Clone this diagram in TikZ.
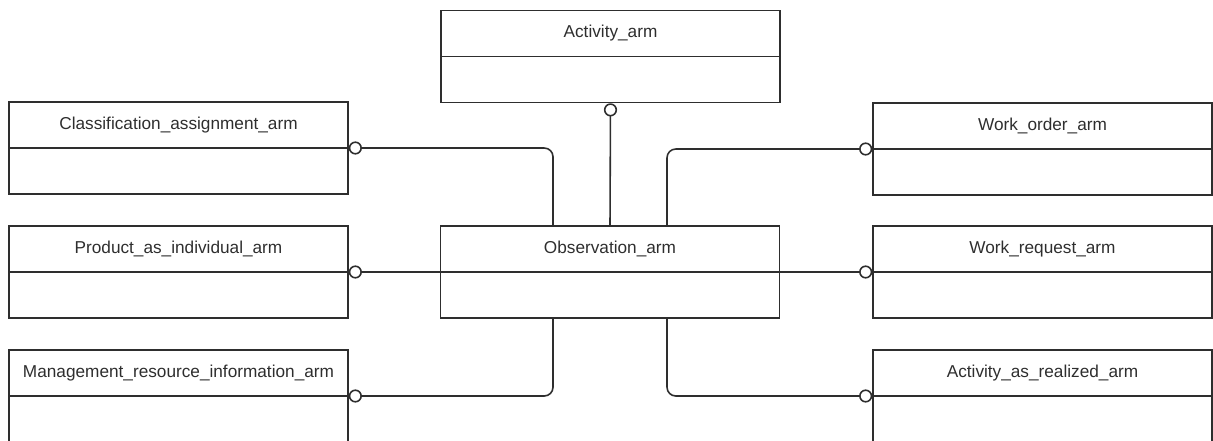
\documentclass[tikz,border=0pt]{standalone}
\usepackage{fontspec}
\setmainfont{Liberation Sans}
\usepackage{xcolor}
\usepackage{tikz}
\usetikzlibrary{arrows.meta,calc}
\definecolor{armgray}{HTML}{2E2E2E}
\newcommand{\armbox}[3]
{
\node[armrect] (#1) at #2 {};
\draw[armline] (#1.west) -- (#1.east);
\path (#1.north) -- (#1.center) node[midway,armtitle]{#3};
}
\tikzstyle{armline}=[draw=armgray,line width=0.9pt]
\tikzstyle{armrect}=[rectangle,draw=armgray,line width=0.9pt,inner sep=0pt,
minimum width=6.78cm,minimum height=1.84cm]
\tikzstyle{armtitle}=[text=armgray,font=\fontsize{9.8}{11}\selectfont]
\tikzstyle{armlink}=[-{Circle[open,length=7.5pt,width=7.5pt]},draw=armgray,
line width=0.9pt,rounded corners=5pt]

\begin{document}
\begin{tikzpicture}[x=0.02cm,y=-0.02cm]
\useasboundingbox (0,0) rectangle (1213,440);
\armbox{act}{(610.5,56.5)}{Activity\_arm}
\armbox{cls}{(178.5,148)}{Classification\_assignment\_arm}
\armbox{prd}{(178.5,272)}{Product\_as\_individual\_arm}
\armbox{mgt}{(178.5,396)}{Management\_resource\_information\_arm}
\armbox{obs}{(610,272)}{Observation\_arm}
\armbox{wor}{(1042.5,149)}{Work\_order\_arm}
\armbox{wrq}{(1042.5,272)}{Work\_request\_arm}
\armbox{aar}{(1042.5,396)}{Activity\_as\_realized\_arm}
% links from the observation
\draw[armlink] (obs.north) -- (act.south);
\draw[armlink] ($(obs.north)+(-57,0)$) |- (cls.east);
\draw[armlink] ($(obs.north)+(57,0)$) |- (wor.west);
\draw[armlink] (obs.west) -- (prd.east);
\draw[armlink] (obs.east) -- (wrq.west);
\draw[armlink] ($(obs.south)+(-57,0)$) |- (mgt.east);
\draw[armlink] ($(obs.south)+(57,0)$) |- (aar.west);
\end{tikzpicture}
\end{document}
